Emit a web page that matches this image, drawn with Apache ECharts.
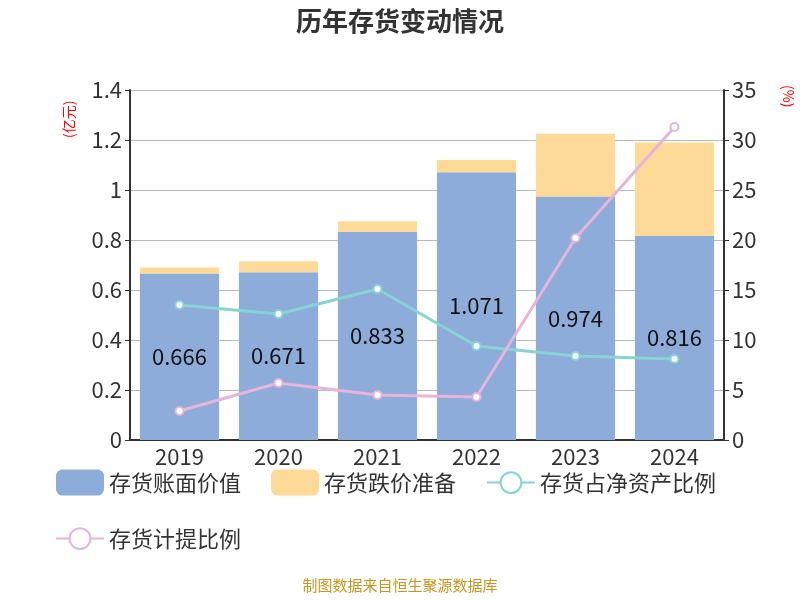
<!DOCTYPE html><html><head><meta charset="utf-8"><script src="https://cdn.jsdelivr.net/npm/echarts@6/dist/echarts.min.js"></script></head><body style="margin:0"><div id="c" style="width:800px;height:600px"></div><script>
const categories=['2019','2020','2021','2022','2023','2024'];
const bookValue=[0.666,0.671,0.833,1.071,0.974,0.816];
const provision=[0.024,0.044,0.042,0.049,0.251,0.374];
const ratioNet=[13.5,12.6,15.1,9.4,8.4,8.1];
const ratioProv=[2.9,5.7,4.5,4.3,20.2,31.3];
const F='"Noto Sans CJK SC","Noto Sans",sans-serif';
const ch=echarts.init(document.getElementById('c'));
ch.setOption({textStyle:{fontFamily:F},
title:{text:'历年存货变动情况',left:'center',top:3,textStyle:{fontSize:26,fontWeight:'bold',color:'#333'}},
graphic:[{type:'text',left:'center',top:578,style:{text:'制图数据来自恒生聚源数据库',fill:'#c8961e',font:'15px '+F}},
{type:'text',x:62,y:138,rotation:Math.PI/2,style:{text:'(亿元)',fill:'red',font:'14px '+F}},
{type:'text',x:795,y:85,rotation:-Math.PI/2,style:{text:'(%)',fill:'red',font:'14px '+F}}],
grid:{left:130,right:76,top:90,bottom:160},
legend:{bottom:45,left:50,right:20,itemWidth:48,itemHeight:26,itemGap:30,textStyle:{fontSize:22,color:'#333'},
data:['存货账面价值','存货跌价准备','存货占净资产比例','存货计提比例']},
xAxis:{type:'category',data:categories,axisLine:{lineStyle:{color:'#333',width:2}},axisTick:{lineStyle:{color:'#333'}},axisLabel:{fontSize:22,color:'#333',margin:6}},
yAxis:[{type:'value',min:0,max:1.4,interval:0.2,
axisLine:{show:true,lineStyle:{color:'#333',width:2}},axisTick:{show:true},axisLabel:{fontSize:22,color:'#333'},splitLine:{lineStyle:{color:'#bbb'}}},
{type:'value',min:0,max:35,interval:5,
axisLine:{show:true,lineStyle:{color:'#333',width:2}},axisTick:{show:true},axisLabel:{fontSize:22,color:'#333'},splitLine:{show:false}}],
series:[
{name:'存货账面价值',type:'bar',stack:'a',data:bookValue,barWidth:'80%',itemStyle:{color:'#8eacd9'},label:{show:true,position:'inside',fontSize:22,color:'#111'}},
{name:'存货跌价准备',type:'bar',stack:'a',data:provision,itemStyle:{color:'#fed998'}},
{name:'存货占净资产比例',type:'line',yAxisIndex:1,data:ratioNet,symbol:'circle',symbolSize:8,lineStyle:{color:'#86d4d6',width:3},itemStyle:{color:'#fff',borderColor:'#86d4d6',borderWidth:2}},
{name:'存货计提比例',type:'line',yAxisIndex:1,data:ratioProv,symbol:'circle',symbolSize:8,lineStyle:{color:'#e6b5d9',width:3},itemStyle:{color:'#fff',borderColor:'#e6b5d9',borderWidth:2}}
]});
</script></body></html>
